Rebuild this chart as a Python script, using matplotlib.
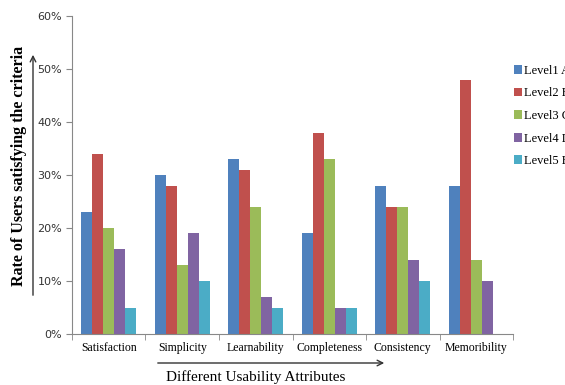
import numpy as np
import matplotlib.pyplot as plt
from matplotlib.patches import FancyArrowPatch

# usability survey results, percent of users per level
attributes = ['Satisfaction', 'Simplicity', 'Learnability', 'Completeness', 'Consistency', 'Memoribility']
levels = ['Level1 A', 'Level2 B', 'Level3 C', 'Level4 D', 'Level5 E']
level1 = [23, 30, 33, 19, 28, 28]
level2 = [34, 28, 31, 38, 24, 48]
level3 = [20, 13, 24, 33, 24, 14]
level4 = [16, 19, 7, 5, 14, 10]
level5 = [5, 10, 5, 5, 10, 0]
yticks = [0, 10, 20, 30, 40, 50, 60]

colors = ['#4F81BD', '#C0504D', '#9BBB59', '#8064A2', '#4BACC6']
series = [level1, level2, level3, level4, level5]

fig = plt.figure(figsize=(5.65, 3.85), dpi=100)
ax = fig.add_axes([0.1274, 0.1325, 0.7806, 0.8255])

x = np.arange(len(attributes))
w = 0.15
for i, (vals, c, lab) in enumerate(zip(series, colors, levels)):
    ax.bar(x + (i - 2) * w, vals, width=w, color=c, label=lab)

ax.set_xlim(-0.5, len(attributes) - 0.5)
ax.set_ylim(0, 60)
ax.set_yticks(yticks)
ax.set_yticklabels([f'{v}%' for v in yticks], fontsize=8, family='DejaVu Sans', color='#333333')
ax.set_xticks(x)
ax.set_xticklabels(attributes, fontsize=8.5, family='Liberation Serif')
ax.set_xticks(np.arange(-0.5, len(attributes)), minor=True)
ax.tick_params(axis='x', which='major', length=0, pad=6)
ax.tick_params(axis='x', which='minor', length=4, color='#888888')
ax.tick_params(axis='y', length=4, color='#888888', pad=3)
for s in ['top', 'right']:
    ax.spines[s].set_visible(False)
for s in ['left', 'bottom']:
    ax.spines[s].set_color('#888888')

# axis titles with arrows
fig.text(0.033, 0.569, 'Rate of Users satisfying the criteria', rotation=90,
         ha='center', va='center', fontsize=11.5, fontweight='bold', family='Liberation Serif')
fig.text(0.453, 0.02, 'Different Usability Attributes', ha='center', va='center',
         fontsize=11, family='Liberation Serif')
fig.patches.append(FancyArrowPatch((33 / 565, 1 - 298 / 385), (33 / 565, 1 - 52 / 385),
                                   transform=fig.transFigure, arrowstyle='->', mutation_scale=10,
                                   color='#333333', lw=1))
fig.patches.append(FancyArrowPatch((155 / 565, 1 - 363 / 385), (387 / 565, 1 - 363 / 385),
                                   transform=fig.transFigure, arrowstyle='->', mutation_scale=10,
                                   color='#333333', lw=1))

fig.legend(loc='upper left', bbox_to_anchor=(0.9, 0.845), frameon=False,
           prop={'family': 'Liberation Serif', 'size': 9}, handlelength=0.7, handleheight=0.7,
           handletextpad=0.1, labelspacing=0.85, borderaxespad=0)

fig.savefig('out.png', dpi=100)
